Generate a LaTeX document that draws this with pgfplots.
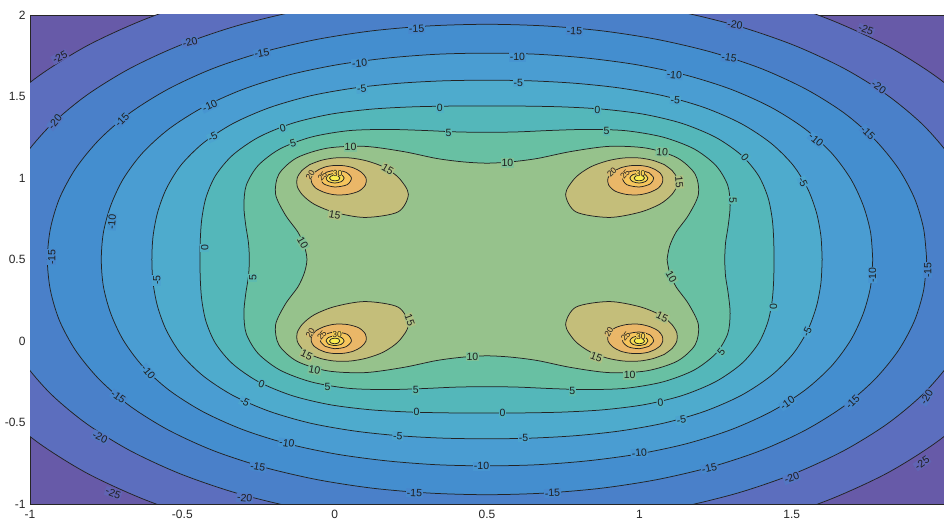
\documentclass[border=0pt]{standalone}
\usepackage{pgfplots}
\pgfplotsset{compat=1.18}
\usepackage{fontspec}
\setmainfont{Liberation Sans}

% band colours (faded parula), from the lowest band outward corners to the peaks
\definecolor{c0}{RGB}{103,90,168}
\definecolor{c1}{RGB}{92,110,190}
\definecolor{c2}{RGB}{74,128,201}
\definecolor{c3}{RGB}{68,142,207}
\definecolor{c4}{RGB}{74,157,210}
\definecolor{c5}{RGB}{78,171,205}
\definecolor{c6}{RGB}{84,183,186}
\definecolor{c7}{RGB}{104,192,163}
\definecolor{c8}{RGB}{150,194,140}
\definecolor{c9}{RGB}{196,190,122}
\definecolor{c10}{RGB}{234,183,104}
\definecolor{c11}{RGB}{246,197,92}
\definecolor{c12}{RGB}{248,220,86}
\definecolor{c13}{RGB}{250,238,78}
\definecolor{cline}{RGB}{35,35,35}
\definecolor{axc}{RGB}{38,38,38}
\definecolor{labc}{RGB}{30,30,30}
% label backgrounds on each level
\colorlet{fm25}{c0!50!c1}
\colorlet{fm20}{c1!50!c2}
\colorlet{fm15}{c2!50!c3}
\colorlet{fm10}{c3!50!c4}
\colorlet{fm5}{c4!50!c5}
\colorlet{f0}{c5!50!c6}
\colorlet{f5}{c6!50!c7}
\colorlet{f10}{c7!50!c8}
\colorlet{f15}{c8!50!c9}
\colorlet{f20}{c9!50!c10}
\colorlet{f25}{c10!50!c11}
\colorlet{f30}{c11!50!c12}

\tikzset{
  clab/.style={font=\fontsize{10.5bp}{12bp}\selectfont, text=labc, inner sep=0.8bp, anchor=center},
  slab/.style={font=\fontsize{8.5bp}{10bp}\selectfont, text=labc, inner sep=0pt, anchor=center},
  lev/.style={draw=cline, line width=0.75bp, smooth, fill=#1},
}

\begin{document}
\begin{tikzpicture}
\begin{axis}[
  name=ax,
  scale only axis,
  width=914bp, height=489bp,
  xmin=-1, xmax=2, ymin=-1, ymax=2,
  xtick={-1,-0.5,0,0.5,1,1.5},
  xticklabels={-1,-0.5,0,0.5,1,1.5},
  ytick={-1,-0.5,0,0.5,1,1.5,2},
  yticklabels={-1,-0.5,0,0.5,1,1.5,2},
  /pgf/number format/assume math mode=true,
  tick align=inside,
  major tick length=10bp,
  axis line style={draw=axc, line width=0.6bp},
  tick style={draw=axc, line width=0.6bp},
  ticklabel style={font=\fontsize{12bp}{14bp}\selectfont, text=axc},
  xticklabel style={yshift=-3bp},
  yticklabel style={xshift=-1bp},
  axis background/.style={fill=c0},
  clip=true,
]

% level -25
\addplot[lev=c1] coordinates {
(2.338,0.500) (2.323,0.740) (2.279,0.977) (2.206,1.206) (2.102,1.425) (1.970,1.628) (1.812,1.812) (1.628,1.970) (1.425,2.102) (1.206,2.206) (0.977,2.279) (0.740,2.323)
(0.500,2.338) (0.260,2.323) (0.023,2.279) (-0.206,2.206) (-0.425,2.102) (-0.628,1.970) (-0.812,1.812) (-0.970,1.628) (-1.102,1.425) (-1.206,1.206) (-1.279,0.977) (-1.323,0.740)
(-1.338,0.500) (-1.323,0.260) (-1.279,0.023) (-1.206,-0.206) (-1.102,-0.425) (-0.970,-0.628) (-0.812,-0.812) (-0.628,-0.970) (-0.425,-1.102) (-0.206,-1.206) (0.023,-1.279) (0.260,-1.323)
(0.500,-1.338) (0.740,-1.323) (0.977,-1.279) (1.206,-1.206) (1.425,-1.102) (1.628,-0.970) (1.812,-0.812) (1.970,-0.628) (2.102,-0.425) (2.206,-0.206) (2.279,0.023) (2.323,0.260) (2.338,0.500)
};
% level -20
\addplot[lev=c2] coordinates {
(2.133,0.500) (2.121,0.713) (2.083,0.924) (2.021,1.130) (1.931,1.326) (1.814,1.508) (1.672,1.672) (1.508,1.814) (1.326,1.931) (1.130,2.021) (0.924,2.083) (0.713,2.121)
(0.500,2.133) (0.287,2.121) (0.076,2.083) (-0.130,2.021) (-0.326,1.931) (-0.508,1.814) (-0.672,1.672) (-0.814,1.508) (-0.931,1.326) (-1.021,1.130) (-1.083,0.924) (-1.121,0.713)
(-1.133,0.500) (-1.121,0.287) (-1.083,0.076) (-1.021,-0.130) (-0.931,-0.326) (-0.814,-0.508) (-0.672,-0.672) (-0.508,-0.814) (-0.326,-0.931) (-0.130,-1.021) (0.076,-1.083) (0.287,-1.121)
(0.500,-1.133) (0.713,-1.121) (0.924,-1.083) (1.130,-1.021) (1.326,-0.931) (1.508,-0.814) (1.672,-0.672) (1.814,-0.508) (1.931,-0.326) (2.021,-0.130) (2.083,0.076) (2.121,0.287) (2.133,0.500)
};
% level -15
\addplot[lev=c3] coordinates {
(1.943,0.500) (1.933,0.689) (1.903,0.876) (1.850,1.059) (1.773,1.235) (1.672,1.399) (1.546,1.546) (1.399,1.672) (1.235,1.773) (1.059,1.850) (0.876,1.903) (0.689,1.933)
(0.500,1.943) (0.311,1.933) (0.124,1.903) (-0.059,1.850) (-0.235,1.773) (-0.399,1.672) (-0.546,1.546) (-0.672,1.399) (-0.773,1.235) (-0.850,1.059) (-0.903,0.876) (-0.933,0.689)
(-0.943,0.500) (-0.933,0.311) (-0.903,0.124) (-0.850,-0.059) (-0.773,-0.235) (-0.672,-0.399) (-0.546,-0.546) (-0.399,-0.672) (-0.235,-0.773) (-0.059,-0.850) (0.124,-0.903) (0.311,-0.933)
(0.500,-0.943) (0.689,-0.933) (0.876,-0.903) (1.059,-0.850) (1.235,-0.773) (1.399,-0.672) (1.546,-0.546) (1.672,-0.399) (1.773,-0.235) (1.850,-0.059) (1.903,0.124) (1.933,0.311) (1.943,0.500)
};
% level -10
\addplot[lev=c4] coordinates {
(1.766,0.500) (1.759,0.666) (1.735,0.831) (1.694,0.994) (1.631,1.153) (1.544,1.301) (1.433,1.433) (1.301,1.544) (1.153,1.631) (0.994,1.694) (0.831,1.735) (0.666,1.759)
(0.500,1.766) (0.334,1.759) (0.169,1.735) (0.006,1.694) (-0.153,1.631) (-0.301,1.544) (-0.433,1.433) (-0.544,1.301) (-0.631,1.153) (-0.694,0.994) (-0.735,0.831) (-0.759,0.666)
(-0.766,0.500) (-0.759,0.334) (-0.735,0.169) (-0.694,0.006) (-0.631,-0.153) (-0.544,-0.301) (-0.433,-0.433) (-0.301,-0.544) (-0.153,-0.631) (0.006,-0.694) (0.169,-0.735) (0.334,-0.759)
(0.500,-0.766) (0.666,-0.759) (0.831,-0.735) (0.994,-0.694) (1.153,-0.631) (1.301,-0.544) (1.433,-0.433) (1.544,-0.301) (1.631,-0.153) (1.694,0.006) (1.735,0.169) (1.759,0.334) (1.766,0.500)
};
% level -5
\addplot[lev=c5] coordinates {
(1.600,0.500) (1.596,0.644) (1.581,0.790) (1.552,0.936) (1.504,1.080) (1.431,1.215) (1.334,1.334) (1.215,1.431) (1.080,1.504) (0.936,1.552) (0.790,1.581) (0.644,1.596)
(0.500,1.600) (0.356,1.596) (0.210,1.581) (0.064,1.552) (-0.080,1.504) (-0.215,1.431) (-0.334,1.334) (-0.431,1.215) (-0.504,1.080) (-0.552,0.936) (-0.581,0.790) (-0.596,0.644)
(-0.600,0.500) (-0.596,0.356) (-0.581,0.210) (-0.552,0.064) (-0.504,-0.080) (-0.431,-0.215) (-0.334,-0.334) (-0.215,-0.431) (-0.080,-0.504) (0.064,-0.552) (0.210,-0.581) (0.356,-0.596)
(0.500,-0.600) (0.644,-0.596) (0.790,-0.581) (0.936,-0.552) (1.080,-0.504) (1.215,-0.431) (1.334,-0.334) (1.431,-0.215) (1.504,-0.080) (1.552,0.064) (1.581,0.210) (1.596,0.356) (1.600,0.500)
};
% level 0
\addplot[lev=c6] coordinates {
(1.442,0.500) (1.441,0.624) (1.436,0.751) (1.422,0.882) (1.391,1.015) (1.335,1.140) (1.250,1.250) (1.140,1.335) (1.015,1.391) (0.882,1.422) (0.751,1.436) (0.624,1.441)
(0.500,1.442) (0.376,1.441) (0.249,1.436) (0.118,1.422) (-0.015,1.391) (-0.140,1.335) (-0.250,1.250) (-0.335,1.140) (-0.391,1.015) (-0.422,0.882) (-0.436,0.751) (-0.441,0.624)
(-0.442,0.500) (-0.441,0.376) (-0.436,0.249) (-0.422,0.118) (-0.391,-0.015) (-0.335,-0.140) (-0.250,-0.250) (-0.140,-0.335) (-0.015,-0.391) (0.118,-0.422) (0.249,-0.436) (0.376,-0.441)
(0.500,-0.442) (0.624,-0.441) (0.751,-0.436) (0.882,-0.422) (1.015,-0.391) (1.140,-0.335) (1.250,-0.250) (1.335,-0.140) (1.391,-0.015) (1.422,0.118) (1.436,0.249) (1.441,0.376) (1.442,0.500)
};
% level 5
\addplot[lev=c7] coordinates {
(1.280,0.500) (1.283,0.603) (1.292,0.712) (1.298,0.831) (1.290,0.956) (1.251,1.077) (1.179,1.179) (1.077,1.251) (0.956,1.290) (0.831,1.298) (0.712,1.292) (0.603,1.283)
(0.500,1.280) (0.397,1.283) (0.288,1.292) (0.169,1.298) (0.044,1.290) (-0.077,1.251) (-0.179,1.179) (-0.251,1.077) (-0.290,0.956) (-0.298,0.831) (-0.292,0.712) (-0.283,0.603)
(-0.280,0.500) (-0.283,0.397) (-0.292,0.288) (-0.298,0.169) (-0.290,0.044) (-0.251,-0.077) (-0.179,-0.179) (-0.077,-0.251) (0.044,-0.290) (0.169,-0.298) (0.288,-0.292) (0.397,-0.283)
(0.500,-0.280) (0.603,-0.283) (0.712,-0.292) (0.831,-0.298) (0.956,-0.290) (1.077,-0.251) (1.179,-0.179) (1.251,-0.077) (1.290,0.044) (1.298,0.169) (1.292,0.288) (1.283,0.397) (1.280,0.500)
};
% level 10
\addplot[lev=c8] coordinates {
(1.091,0.500) (1.099,0.579) (1.120,0.666) (1.162,0.774) (1.194,0.901) (1.183,1.024) (1.124,1.124) (1.024,1.183) (0.901,1.194) (0.774,1.162) (0.666,1.120) (0.579,1.099)
(0.500,1.091) (0.421,1.099) (0.334,1.120) (0.226,1.162) (0.099,1.194) (-0.024,1.183) (-0.124,1.124) (-0.183,1.024) (-0.194,0.901) (-0.162,0.774) (-0.120,0.666) (-0.099,0.579)
(-0.091,0.500) (-0.099,0.421) (-0.120,0.334) (-0.162,0.226) (-0.194,0.099) (-0.183,-0.024) (-0.124,-0.124) (-0.024,-0.183) (0.099,-0.194) (0.226,-0.162) (0.334,-0.120) (0.421,-0.099)
(0.500,-0.091) (0.579,-0.099) (0.666,-0.120) (0.774,-0.162) (0.901,-0.194) (1.024,-0.183) (1.124,-0.124) (1.183,-0.024) (1.194,0.099) (1.162,0.226) (1.120,0.334) (1.099,0.421) (1.091,0.500)
};

% level 15, four islands
\addplot[lev=c9] coordinates {(1.082,1.082) (1.045,1.108) (1.000,1.123) (0.949,1.123) (0.895,1.105) (0.839,1.067) (0.789,1.000) (0.758,0.900) (0.792,0.792) (0.900,0.758) (1.000,0.789) (1.067,0.839) (1.105,0.895) (1.123,0.949) (1.123,1.000) (1.108,1.045) (1.082,1.082)};
\addplot[lev=c9] coordinates {(-0.082,1.082) (-0.045,1.108) (0.000,1.123) (0.051,1.123) (0.105,1.105) (0.161,1.067) (0.211,1.000) (0.242,0.900) (0.208,0.792) (0.100,0.758) (0.000,0.789) (-0.067,0.839) (-0.105,0.895) (-0.123,0.949) (-0.123,1.000) (-0.108,1.045) (-0.082,1.082)};
\addplot[lev=c9] coordinates {(-0.082,-0.082) (-0.045,-0.108) (0.000,-0.123) (0.051,-0.123) (0.105,-0.105) (0.161,-0.067) (0.211,0.000) (0.242,0.100) (0.208,0.208) (0.100,0.242) (0.000,0.211) (-0.067,0.161) (-0.105,0.105) (-0.123,0.051) (-0.123,0.000) (-0.108,-0.045) (-0.082,-0.082)};
\addplot[lev=c9] coordinates {(1.082,-0.082) (1.045,-0.108) (1.000,-0.123) (0.949,-0.123) (0.895,-0.105) (0.839,-0.067) (0.789,0.000) (0.758,0.100) (0.792,0.208) (0.900,0.242) (1.000,0.211) (1.067,0.161) (1.105,0.105) (1.123,0.051) (1.123,0.000) (1.108,-0.045) (1.082,-0.082)};

% level 20
\addplot[lev=c10] coordinates {(1.052,1.052) (1.029,1.069) (1.000,1.077) (0.969,1.075) (0.938,1.062) (0.913,1.036) (0.897,1.000) (0.899,0.958) (0.920,0.920) (0.958,0.899) (1.000,0.897) (1.036,0.913) (1.062,0.938) (1.075,0.969) (1.077,1.000) (1.069,1.029) (1.052,1.052)};
\addplot[lev=c10] coordinates {(-0.052,1.052) (-0.029,1.069) (0.000,1.077) (0.031,1.075) (0.062,1.062) (0.087,1.036) (0.103,1.000) (0.101,0.958) (0.080,0.920) (0.042,0.899) (0.000,0.897) (-0.036,0.913) (-0.062,0.938) (-0.075,0.969) (-0.077,1.000) (-0.069,1.029) (-0.052,1.052)};
\addplot[lev=c10] coordinates {(-0.052,-0.052) (-0.029,-0.069) (0.000,-0.077) (0.031,-0.075) (0.062,-0.062) (0.087,-0.036) (0.103,0.000) (0.101,0.042) (0.080,0.080) (0.042,0.101) (0.000,0.103) (-0.036,0.087) (-0.062,0.062) (-0.075,0.031) (-0.077,0.000) (-0.069,-0.029) (-0.052,-0.052)};
\addplot[lev=c10] coordinates {(1.052,-0.052) (1.029,-0.069) (1.000,-0.077) (0.969,-0.075) (0.938,-0.062) (0.913,-0.036) (0.897,0.000) (0.899,0.042) (0.920,0.080) (0.958,0.101) (1.000,0.103) (1.036,0.087) (1.062,0.062) (1.075,0.031) (1.077,0.000) (1.069,-0.029) (1.052,-0.052)};

% level 25
\addplot[lev=c11] coordinates {(1.032,1.032) (1.000,1.047) (0.964,1.036) (0.945,1.000) (0.959,0.959) (1.000,0.945) (1.036,0.964) (1.047,1.000) (1.032,1.032)};
\addplot[lev=c11] coordinates {(-0.032,1.032) (0.000,1.047) (0.036,1.036) (0.055,1.000) (0.041,0.959) (0.000,0.945) (-0.036,0.964) (-0.047,1.000) (-0.032,1.032)};
\addplot[lev=c11] coordinates {(-0.032,-0.032) (0.000,-0.047) (0.036,-0.036) (0.055,0.000) (0.041,0.041) (0.000,0.055) (-0.036,0.036) (-0.047,0.000) (-0.032,-0.032)};
\addplot[lev=c11] coordinates {(1.032,-0.032) (1.000,-0.047) (0.964,-0.036) (0.945,0.000) (0.959,0.041) (1.000,0.055) (1.036,0.036) (1.047,0.000) (1.032,-0.032)};

% level 30
\addplot[lev=c12] coordinates {(1.020,1.020) (1.000,1.028) (0.979,1.021) (0.969,1.000) (0.978,0.978) (1.000,0.969) (1.021,0.979) (1.028,1.000) (1.020,1.020)};
\addplot[lev=c12] coordinates {(-0.020,1.020) (0.000,1.028) (0.021,1.021) (0.031,1.000) (0.022,0.978) (0.000,0.969) (-0.021,0.979) (-0.028,1.000) (-0.020,1.020)};
\addplot[lev=c12] coordinates {(-0.020,-0.020) (0.000,-0.028) (0.021,-0.021) (0.031,0.000) (0.022,0.022) (0.000,0.031) (-0.021,0.021) (-0.028,0.000) (-0.020,-0.020)};
\addplot[lev=c12] coordinates {(1.020,-0.020) (1.000,-0.028) (0.979,-0.021) (0.969,0.000) (0.978,0.022) (1.000,0.031) (1.021,0.021) (1.028,0.000) (1.020,-0.020)};

% level 35
\addplot[lev=c13] coordinates {(1.012,1.012) (1.000,1.017) (0.988,1.012) (0.983,1.000) (0.987,0.987) (1.000,0.983) (1.012,0.988) (1.017,1.000) (1.012,1.012)};
\addplot[lev=c13] coordinates {(-0.012,1.012) (0.000,1.017) (0.012,1.012) (0.017,1.000) (0.013,0.987) (0.000,0.983) (-0.012,0.988) (-0.017,1.000) (-0.012,1.012)};
\addplot[lev=c13] coordinates {(-0.012,-0.012) (0.000,-0.017) (0.012,-0.012) (0.017,0.000) (0.013,0.013) (0.000,0.017) (-0.012,0.012) (-0.017,0.000) (-0.012,-0.012)};
\addplot[lev=c13] coordinates {(1.012,-0.012) (1.000,-0.017) (0.988,-0.012) (0.983,0.000) (0.987,0.013) (1.000,0.017) (1.012,0.012) (1.017,0.000) (1.012,-0.012)};

% contour labels
\node[clab, fill=fm25, rotate=28] at (axis cs:-0.902,1.742) {-25};
\node[clab, fill=fm20, rotate=15] at (axis cs:-0.475,1.834) {-20};
\node[clab, fill=fm20, rotate=50] at (axis cs:-0.918,1.344) {-20};
\node[clab, fill=fm15, rotate=10] at (axis cs:-0.239,1.767) {-15};
\node[clab, fill=fm15, rotate=45] at (axis cs:-0.698,1.356) {-15};
\node[clab, fill=fm10, rotate=25] at (axis cs:-0.410,1.442) {-10};
\node[clab, fill=fm10, rotate=85] at (axis cs:-0.731,0.730) {-10};
\node[clab, fill=fm15, rotate=90] at (axis cs:-0.928,0.515) {-15};
\node[clab, fill=fm5, rotate=25] at (axis cs:-0.400,1.252) {-5};
\node[clab, fill=f0, rotate=15] at (axis cs:-0.170,1.307) {0};
\node[clab, fill=f5, rotate=15] at (axis cs:-0.137,1.215) {5};
\node[clab, fill=f0, rotate=90] at (axis cs:-0.426,0.571) {0};
\node[clab, fill=f10, rotate=-60] at (axis cs:-0.105,0.601) {10};
\node[clab, fill=fm15, rotate=3] at (axis cs:0.269,1.914) {-15};
\node[clab, fill=fm15, rotate=-3] at (axis cs:0.787,1.902) {-15};
\node[clab, fill=fm10, rotate=5] at (axis cs:0.082,1.705) {-10};
\node[clab, fill=fm10] at (axis cs:0.600,1.742) {-10};
\node[clab, fill=fm5, rotate=5] at (axis cs:0.089,1.546) {-5};
\node[clab, fill=fm5] at (axis cs:0.603,1.583) {-5};
\node[clab, fill=f0] at (axis cs:0.345,1.429) {0};
\node[clab, fill=f0, rotate=-2] at (axis cs:0.862,1.417) {0};
\node[clab, fill=f5] at (axis cs:0.374,1.276) {5};
\node[clab, fill=f5] at (axis cs:0.892,1.288) {5};
\node[clab, fill=f10] at (axis cs:0.052,1.190) {10};
\node[clab, fill=f10] at (axis cs:0.567,1.092) {10};
\node[clab, fill=f15, rotate=-30] at (axis cs:0.174,1.055) {15};
\node[clab, fill=fm20, rotate=-10] at (axis cs:1.314,1.939) {-20};
\node[clab, fill=fm25, rotate=-20] at (axis cs:1.744,1.908) {-25};
\node[clab, fill=fm15, rotate=-8] at (axis cs:1.295,1.736) {-15};
\node[clab, fill=fm10, rotate=-5] at (axis cs:1.115,1.632) {-10};
\node[clab, fill=fm5, rotate=-5] at (axis cs:1.118,1.479) {-5};
\node[clab, fill=f10, rotate=-5] at (axis cs:1.075,1.160) {10};
\node[clab, fill=fm20, rotate=-35] at (axis cs:1.786,1.558) {-20};
\node[clab, fill=fm10, rotate=-40] at (axis cs:1.580,1.233) {-10};
\node[clab, fill=fm15, rotate=-45] at (axis cs:1.750,1.276) {-15};
\node[clab, fill=f0, rotate=-50] at (axis cs:1.347,1.129) {0};
\node[clab, fill=fm5, rotate=-65] at (axis cs:1.537,0.975) {-5};
\node[clab, fill=f15, rotate=-85] at (axis cs:1.131,0.975) {15};
\node[clab, fill=f5, rotate=-90] at (axis cs:1.307,0.865) {5};
\node[clab, fill=fm15, rotate=90] at (axis cs:1.947,0.436) {-15};
\node[clab, fill=f10, rotate=-60] at (axis cs:1.105,0.393) {10};
\node[clab, fill=f0, rotate=90] at (axis cs:1.440,0.209) {0};
\node[clab, fill=fm10, rotate=90] at (axis cs:1.765,0.405) {-10};
\node[clab, fill=fm5, rotate=65] at (axis cs:1.551,0.055) {-5};
\node[clab, fill=f15, rotate=-25] at (axis cs:1.075,0.147) {15};
\node[clab, fill=f5, rotate=50] at (axis cs:1.269,-0.067) {5};
\node[clab, fill=f10] at (axis cs:0.968,-0.209) {10};
\node[clab, fill=f0, rotate=5] at (axis cs:1.069,-0.380) {0};
\node[clab, fill=fm5, rotate=10] at (axis cs:1.138,-0.485) {-5};
\node[clab, fill=fm10, rotate=35] at (axis cs:1.486,-0.380) {-10};
\node[clab, fill=fm15, rotate=45] at (axis cs:1.700,-0.374) {-15};
\node[clab, fill=fm20, rotate=60] at (axis cs:1.943,-0.344) {-20};
\node[clab, fill=fm10, rotate=5] at (axis cs:1.000,-0.687) {-10};
\node[clab, fill=fm15, rotate=12] at (axis cs:1.230,-0.779) {-15};
\node[clab, fill=fm20, rotate=20] at (axis cs:1.500,-0.840) {-20};
\node[clab, fill=fm25, rotate=35] at (axis cs:1.928,-0.748) {-25};
\node[clab, fill=fm5, rotate=90] at (axis cs:-0.584,0.374) {-5};
\node[clab, fill=f5, rotate=90] at (axis cs:-0.269,0.386) {5};
\node[clab, fill=fm10, rotate=-50] at (axis cs:-0.612,-0.190) {-10};
\node[clab, fill=fm15, rotate=-35] at (axis cs:-0.710,-0.344) {-15};
\node[clab, fill=fm20, rotate=-25] at (axis cs:-0.770,-0.589) {-20};
\node[clab, fill=fm25, rotate=-20] at (axis cs:-0.727,-0.933) {-25};
\node[clab, fill=fm20, rotate=-5] at (axis cs:-0.295,-0.963) {-20};
\node[clab, fill=fm15, rotate=-10] at (axis cs:-0.252,-0.773) {-15};
\node[clab, fill=fm10, rotate=-8] at (axis cs:-0.157,-0.626) {-10};
\node[clab, fill=f0, rotate=-20] at (axis cs:-0.240,-0.264) {0};
\node[clab, fill=fm5, rotate=-25] at (axis cs:-0.295,-0.374) {-5};
\node[clab, fill=f15, rotate=-25] at (axis cs:-0.092,-0.086) {15};
\node[clab, fill=f10, rotate=-10] at (axis cs:-0.066,-0.178) {10};
\node[clab, fill=f10] at (axis cs:0.452,-0.098) {10};
\node[clab, fill=f15, rotate=-20] at (axis cs:0.859,-0.098) {15};
\node[clab, fill=f5] at (axis cs:-0.023,-0.282) {5};
\node[clab, fill=f5] at (axis cs:0.266,-0.301) {5};
\node[clab, fill=f5] at (axis cs:0.780,-0.307) {5};
\node[clab, fill=f0] at (axis cs:0.269,-0.436) {0};
\node[clab, fill=f0] at (axis cs:0.551,-0.442) {0};
\node[clab, fill=fm5, rotate=-5] at (axis cs:0.207,-0.583) {-5};
\node[clab, fill=fm5] at (axis cs:0.620,-0.595) {-5};
\node[clab, fill=fm10] at (axis cs:0.482,-0.767) {-10};
\node[clab, fill=fm15, rotate=-3] at (axis cs:0.262,-0.933) {-15};
\node[clab, fill=fm15, rotate=3] at (axis cs:0.715,-0.933) {-15};
\node[clab, fill=f15, rotate=-10] at (axis cs:0.000,0.773) {15};
\node[clab, fill=f15, rotate=-70] at (axis cs:0.246,0.129) {15};
% labels of the small rings round the four peaks
\node[slab, fill=f20, rotate=60] at (axis cs:-0.080,0.050) {20};
\node[slab, fill=f20, rotate=60] at (axis cs:0.900,0.055) {20};
\node[slab, fill=f20, rotate=60] at (axis cs:-0.080,1.018) {20};
\node[slab, fill=f20, rotate=45] at (axis cs:0.910,1.035) {20};
\node[slab, fill=f25, rotate=50] at (axis cs:-0.040,1.010) {25};
\node[slab, fill=f30] at (axis cs:0.010,1.030) {30};
\node[slab, fill=f25, rotate=50] at (axis cs:-0.042,0.035) {25};
\node[slab, fill=f30] at (axis cs:0.008,0.040) {30};
\node[slab, fill=f25, rotate=50] at (axis cs:0.955,0.028) {25};
\node[slab, fill=f30] at (axis cs:1.005,0.030) {30};
\node[slab, fill=f25, rotate=50] at (axis cs:0.953,1.022) {25};
\node[slab, fill=f30] at (axis cs:1.004,1.028) {30};
\end{axis}
\pgfresetboundingbox
\path ([shift={(-30bp,-19bp)}]ax.south west) rectangle ([shift={(0bp,15bp)}]ax.north east);
\end{tikzpicture}
\end{document}
